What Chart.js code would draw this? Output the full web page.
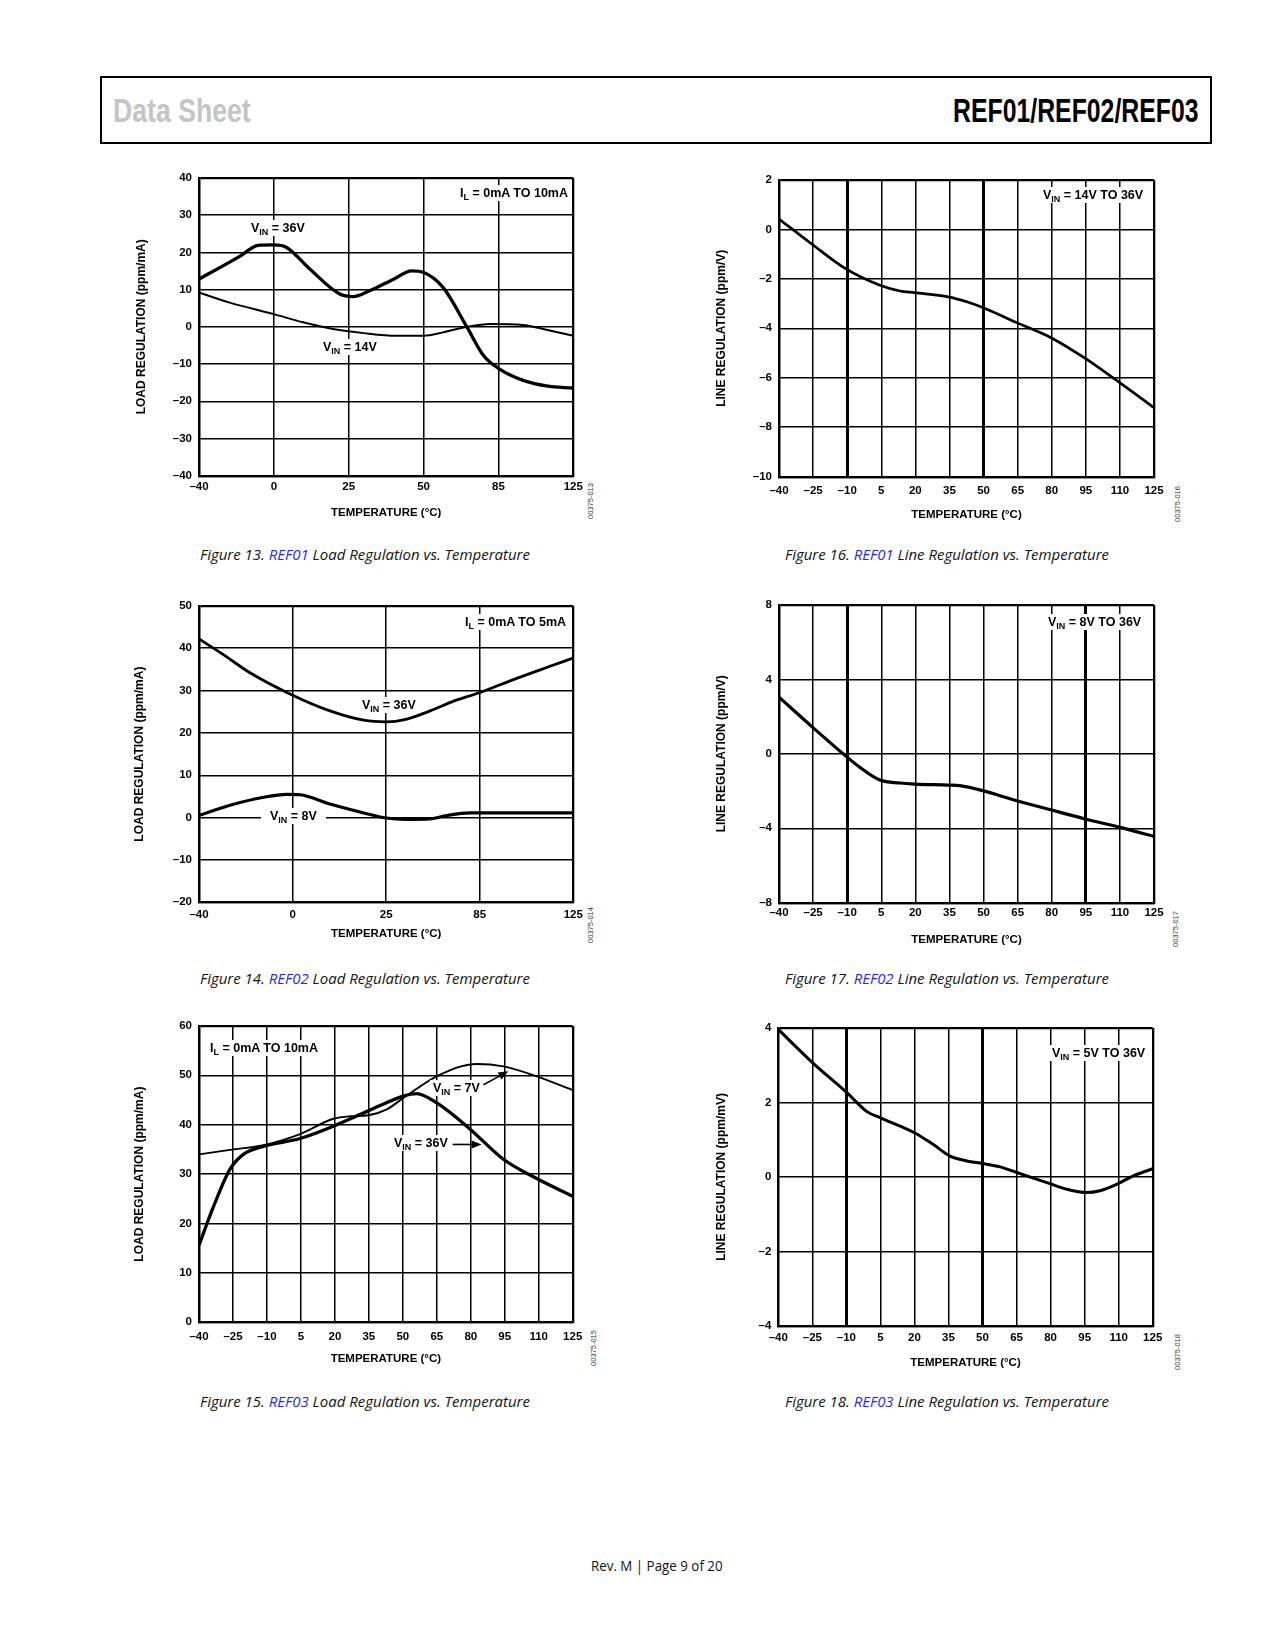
<!DOCTYPE html>
<html>
<head>
<meta charset="utf-8">
<script src="https://cdn.jsdelivr.net/npm/chart.js@4.4.1/dist/chart.umd.min.js"></script>
<style>
  body { margin: 0; background: #fff; }
  #page { position: relative; width: 1275px; height: 1650px; overflow: hidden; font-family: 'Liberation Sans', Arial, sans-serif; }
  #hdr { position: absolute; left: 100px; top: 76px; width: 1112px; height: 68px; border: 2px solid #000; box-sizing: border-box; }
  .big { position: absolute; font-size: 33px; line-height: 33px; font-weight: bold; white-space: nowrap; transform-origin: 0 0; }
  .cap { position: absolute; font-family: 'Open Sans', sans-serif; font-style: italic; font-size: 14px; line-height: 18px; white-space: nowrap; color: #111; transform-origin: 0 0; }
  .cap span { color: #1f1fff; }
  .note { position: absolute; z-index: 2; height: 16px; line-height: 16px; background: #fff; font-size: 12.5px; font-weight: bold; white-space: nowrap; }
  .note sub { font-size: 9px; vertical-align: -3px; line-height: 0; }
  .fid { position: absolute; font-size: 7.5px; color: #333; white-space: nowrap; transform: translate(-50%, -50%) rotate(-90deg); }
  canvas { position: absolute; z-index: 1; }
</style>
</head>
<body>
<div id="page">
  <div id="hdr"></div>
  <div class="big" id="ds" style="left:113px;top:94px;color:#c4c4c4">Data Sheet</div>
  <div class="big" id="pn" style="left:953px;top:94px;color:#000">REF01/REF02/REF03</div>
  <div class="cap" id="footer" style="left:591px;top:1557px;font-style:normal;font-size:14px">Rev. M | Page 9 of 20</div>
</div>
<script>
// ---- Figure 13: REF01 load regulation (x in grid divisions) ----
const fig13Ticks = ['-40', '0', '25', '50', '85', '125'];
const fig13Yticks = [-40, -30, -20, -10, 0, 10, 20, 30, 40];
const fig13X36 = [0, 0.55, 0.79, 1.0, 1.17, 1.48, 1.88, 2.06, 2.28, 2.6, 2.84, 3.0, 3.26, 3.58, 3.8, 4.01, 4.33, 4.64, 5];
const fig13Vin36 = [12.8, 19, 21.9, 22, 21.3, 15.5, 8.8, 8.1, 9.7, 12.8, 15, 14.6, 10.6, -0.1, -7.7, -11.3, -14.4, -15.9, -16.5];
const fig13X14 = [0, 0.41, 1.0, 1.39, 1.79, 2.2, 2.64, 3.0, 3.26, 3.58, 3.89, 4.33, 4.64, 5];
const fig13Vin14 = [9.2, 6.5, 3.4, 1.2, -0.6, -1.7, -2.4, -2.4, -1.5, 0, 0.75, 0.5, -0.8, -2.4];

// ---- Figure 14: REF02 load regulation (x in grid divisions) ----
const fig14Ticks = ['-40', '0', '25', '85', '125'];
const fig14Yticks = [-20, -10, 0, 10, 20, 30, 40, 50];
const fig14X36 = [0, 0.26, 0.545, 1.0, 1.4, 1.76, 2.0, 2.21, 2.47, 2.72, 3.01, 3.36, 3.72, 4];
const fig14Vin36 = [42.2, 38.5, 34.2, 28.9, 25.2, 23, 22.6, 23.2, 25.2, 27.5, 29.6, 32.6, 35.5, 37.7];
const fig14X8 = [0, 0.33, 0.69, 0.94, 1.08, 1.4, 1.76, 2.0, 2.21, 2.47, 2.65, 2.9, 3.18, 4];
const fig14Vin8 = [0.5, 2.9, 4.8, 5.5, 5.4, 3.2, 1.1, -0.1, -0.4, -0.3, 0.5, 1.1, 1.1, 1.1];

// ---- shared temperature ticks for figures 15–18 ----
const tempTicks = [-40, -25, -10, 5, 20, 35, 50, 65, 80, 95, 110, 125];

// ---- Figure 15: REF03 load regulation ----
const fig15Yticks = [0, 10, 20, 30, 40, 50, 60];
const fig15T36 = [-40, -33.7, -26.3, -20.4, -11.6, 4.6, 19.3, 34.8, 50.2, 56.1, 65, 79.7, 94.4, 109.1, 125];
const fig15Vin36 = [15.6, 23.3, 31, 34, 35.6, 37.2, 39.7, 42.8, 45.8, 46.3, 44.4, 39.1, 33, 29.1, 25.5];
const fig15T7 = [-40, -26.3, -10.1, 4.6, 19.3, 26.7, 34.8, 42.9, 50.2, 65, 82.6, 94.4, 109.1, 125];
const fig15Vin7 = [34, 34.9, 36, 38.1, 41.2, 41.7, 41.9, 43.1, 45.4, 49.8, 52.3, 51.8, 49.8, 47];

// ---- Figure 16: REF01 line regulation ----
const fig16Yticks = [-10, -8, -6, -4, -2, 0, 2];
const fig16T = [-40, -25.9, -10.7, 4.4, 13.2, 19.5, 34.5, 42.6, 49.6, 64.6, 79.5, 94.6, 109.6, 125];
const fig16Line = [0.42, -0.57, -1.59, -2.26, -2.49, -2.56, -2.73, -2.93, -3.16, -3.77, -4.37, -5.21, -6.18, -7.21];

// ---- Figure 17: REF02 line regulation ----
const fig17Yticks = [-8, -4, 0, 4, 8];
const fig17T = [-40, -25.9, -10.7, -4.4, 4.4, 13.2, 19.5, 34.5, 39.6, 49.6, 64.6, 79.5, 94.6, 109.6, 125];
const fig17Line = [3.04, 1.5, -0.11, -0.73, -1.41, -1.57, -1.63, -1.68, -1.71, -1.98, -2.52, -3.01, -3.5, -3.94, -4.44];

// ---- Figure 18: REF03 line regulation ----
const fig18Yticks = [-4, -2, 0, 2, 4];
const fig18T = [-40, -24.6, -9.9, -1.1, 5.3, 20.2, 28.3, 35.7, 43, 50.1, 57.7, 65.1, 79.7, 87.1, 95.9, 101.8, 109.1, 116.5, 125];
const fig18Line = [3.96, 3.05, 2.27, 1.76, 1.58, 1.18, 0.87, 0.56, 0.43, 0.36, 0.27, 0.12, -0.18, -0.33, -0.42, -0.37, -0.2, 0.03, 0.22];

const page = document.getElementById('page');
const dash = v => String(v).replace('-', '\u2013');

Chart.defaults.font.family = "'Liberation Sans', Arial, sans-serif";
Chart.defaults.font.size = 11.5;
Chart.defaults.font.weight = 'bold';
Chart.defaults.color = '#000';

function makeChart(spec) {
  const b = spec.box;
  const cl = Math.round(spec.yTitleX - 12);
  const ct = Math.floor(b.t - 12);
  const cr = Math.ceil(b.r + 22);
  const cb = Math.ceil(spec.xTitleY + 6.9 + 3);
  const cv = document.createElement('canvas');
  cv.width = cr - cl;
  cv.height = cb - ct;
  cv.style.left = cl + 'px';
  cv.style.top = ct + 'px';
  page.appendChild(cv);

  const yW = b.l - cl, xH = cb - b.b;
  const xv = spec.xTicks, yv = spec.yTicks;
  const thick = spec.thick || [];

  new Chart(cv, {
    type: 'line',
    data: {
      datasets: spec.series.map(s => ({
        data: s.x.map((x, i) => ({ x: x, y: s.y[i] })),
        borderColor: '#000',
        borderWidth: s.w,
        pointRadius: 0,
        cubicInterpolationMode: 'monotone',
        fill: false
      }))
    },
    options: {
      responsive: false,
      animation: false,
      devicePixelRatio: 1,
      layout: { padding: { top: b.t - ct, right: cr - b.r, left: 0, bottom: 0 } },
      plugins: { legend: { display: false }, tooltip: { enabled: false } },
      scales: {
        x: {
          type: 'linear',
          min: xv[0],
          max: xv[xv.length - 1],
          afterBuildTicks: s => { s.ticks = xv.map(v => ({ value: v })); },
          afterFit: s => { s.height = xH; },
          ticks: { padding: spec.xLabelY - b.b - 6.9, autoSkip: false, maxRotation: 0, callback: spec.xFmt },
          grid: {
            drawTicks: false,
            color: '#000',
            lineWidth: c => {
              const v = c.tick ? c.tick.value : null;
              if (thick.includes(v)) return 3;
              if (v === xv[0] || v === xv[xv.length - 1]) return 2.3;
              return 1.5;
            }
          },
          border: { color: '#000', width: 2.3 },
          title: { display: true, text: 'TEMPERATURE (°C)', padding: { top: 0, bottom: cb - spec.xTitleY - 6.9 } }
        },
        y: {
          min: yv[0],
          max: yv[yv.length - 1],
          afterBuildTicks: s => { s.ticks = yv.map(v => ({ value: v })); },
          afterFit: s => { s.width = yW; },
          ticks: { padding: 7, callback: v => dash(v) },
          grid: {
            drawTicks: false,
            color: '#000',
            lineWidth: c => {
              const v = c.tick ? c.tick.value : null;
              return (v === yv[0] || v === yv[yv.length - 1]) ? 2.3 : 1.5;
            }
          },
          border: { color: '#000', width: 2.3 },
          title: { display: true, text: spec.yTitle, font: { size: 12 }, padding: { top: spec.yTitleX - cl - 7.2, bottom: 0 } }
        }
      }
    },
    plugins: [{
      id: 'arrows',
      afterDatasetsDraw(chart) {
        const { ctx, scales } = chart;
        (spec.arrows || []).forEach(a => {
          const x1 = scales.x.getPixelForValue(a[0]), y1 = scales.y.getPixelForValue(a[1]);
          const x2 = scales.x.getPixelForValue(a[2]), y2 = scales.y.getPixelForValue(a[3]);
          const ang = Math.atan2(y2 - y1, x2 - x1);
          ctx.save();
          ctx.strokeStyle = '#000';
          ctx.fillStyle = '#000';
          ctx.lineWidth = 1.6;
          ctx.beginPath();
          ctx.moveTo(x1, y1);
          ctx.lineTo(x2 - 7 * Math.cos(ang), y2 - 7 * Math.sin(ang));
          ctx.stroke();
          ctx.beginPath();
          ctx.moveTo(x2, y2);
          ctx.lineTo(x2 - 10 * Math.cos(ang) + 4 * Math.sin(ang), y2 - 10 * Math.sin(ang) - 4 * Math.cos(ang));
          ctx.lineTo(x2 - 10 * Math.cos(ang) - 4 * Math.sin(ang), y2 - 10 * Math.sin(ang) + 4 * Math.cos(ang));
          ctx.closePath();
          ctx.fill();
          ctx.restore();
        });
      }
    }]
  });
}

function note(html, x, cy, pad) {
  const d = document.createElement('div');
  d.className = 'note';
  d.innerHTML = html;
  d.style.left = (x - pad) + 'px';
  d.style.top = (cy - 8) + 'px';
  d.style.padding = '0 ' + pad + 'px';
  page.appendChild(d);
}

function fid(text, x, cy) {
  const d = document.createElement('div');
  d.className = 'fid';
  d.textContent = text;
  d.style.left = x + 'px';
  d.style.top = cy + 'px';
  page.appendChild(d);
}

function caption(num, part, what, x, cy, w) {
  const d = document.createElement('div');
  d.className = 'cap';
  d.innerHTML = 'Figure ' + num + '. <span>' + part + '</span> ' + what + ' vs. Temperature';
  d.style.left = x + 'px';
  d.style.top = (cy - 9) + 'px';
  d.dataset.w = w;
  page.appendChild(d);
}

// Figure 13
makeChart({
  box: { l: 199, t: 176.7, r: 573.3, b: 475.7 }, yTitleX: 141.7, xLabelY: 486.7, xTitleY: 513,
  xTicks: [0, 1, 2, 3, 4, 5], xFmt: v => dash(fig13Ticks[v]), yTicks: fig13Yticks,
  yTitle: 'LOAD REGULATION (ppm/mA)',
  series: [{ x: fig13X36, y: fig13Vin36, w: 3.3 }, { x: fig13X14, y: fig13Vin14, w: 2 }]
});
note('I<sub>L</sub> = 0mA TO 10mA', 460, 193, 3);
note('V<sub>IN</sub> = 36V', 251, 228, 3);
note('V<sub>IN</sub> = 14V', 323, 347, 3);

// Figure 14
makeChart({
  box: { l: 199, t: 604.3, r: 573.3, b: 902.3 }, yTitleX: 140, xLabelY: 915, xTitleY: 934.3,
  xTicks: [0, 1, 2, 3, 4], xFmt: v => dash(fig14Ticks[v]), yTicks: fig14Yticks,
  yTitle: 'LOAD REGULATION (ppm/mA)',
  series: [{ x: fig14X36, y: fig14Vin36, w: 2.8 }, { x: fig14X8, y: fig14Vin8, w: 3.2 }]
});
note('I<sub>L</sub> = 0mA TO 5mA', 465, 622, 3);
note('V<sub>IN</sub> = 36V', 362, 705, 3);
note('V<sub>IN</sub> = 8V', 270, 816, 9);

// Figure 15
makeChart({
  box: { l: 199, t: 1024.3, r: 572.7, b: 1322.3 }, yTitleX: 140, xLabelY: 1336.7, xTitleY: 1359,
  xTicks: tempTicks, xFmt: v => dash(v), yTicks: fig15Yticks,
  yTitle: 'LOAD REGULATION (ppm/mA)',
  series: [{ x: fig15T36, y: fig15Vin36, w: 3.3 }, { x: fig15T7, y: fig15Vin7, w: 1.9 }],
  arrows: [[85.6, 48.1, 96.6, 50.8], [72.0, 36.0, 84.8, 36.0]]
});
note('I<sub>L</sub> = 0mA TO 10mA', 210, 1048, 3);
note('V<sub>IN</sub> = 7V', 433, 1088, 3);
note('V<sub>IN</sub> = 36V', 394, 1143, 3);

// Figure 16
makeChart({
  box: { l: 779, t: 178.3, r: 1154, b: 476.7 }, yTitleX: 721.7, xLabelY: 491, xTitleY: 515,
  xTicks: tempTicks, xFmt: v => dash(v), yTicks: fig16Yticks, thick: [-10, 50],
  yTitle: 'LINE REGULATION (ppm/V)',
  series: [{ x: fig16T, y: fig16Line, w: 2.7 }]
});
note('V<sub>IN</sub> = 14V TO 36V', 1043, 195, 4);

// Figure 17
makeChart({
  box: { l: 779, t: 603.3, r: 1154, b: 902.7 }, yTitleX: 721.7, xLabelY: 913, xTitleY: 940,
  xTicks: tempTicks, xFmt: v => dash(v), yTicks: fig17Yticks, thick: [-10, 95],
  yTitle: 'LINE REGULATION (ppm/V)',
  series: [{ x: fig17T, y: fig17Line, w: 3.2 }]
});
note('V<sub>IN</sub> = 8V TO 36V', 1048, 622, 4);

// Figure 18
makeChart({
  box: { l: 778.3, t: 1026, r: 1152.7, b: 1326 }, yTitleX: 721.7, xLabelY: 1337.7, xTitleY: 1363,
  xTicks: tempTicks, xFmt: v => dash(v), yTicks: fig18Yticks, thick: [-10, 50],
  yTitle: 'LINE REGULATION (ppm/mV)',
  series: [{ x: fig18T, y: fig18Line, w: 3 }]
});
note('V<sub>IN</sub> = 5V TO 36V', 1052, 1053, 4);

// figure ids down the right side of each plot
fid('00375-013', 590, 501);
fid('00375-014', 590, 925);
fid('00375-015', 593, 1348);
fid('00375-016', 1177, 504);
fid('00375-017', 1175, 929);
fid('00375-018', 1177, 1352);

caption(13, 'REF01', 'Load Regulation', 200, 555, 330);
caption(14, 'REF02', 'Load Regulation', 200, 978.5, 330);
caption(15, 'REF03', 'Load Regulation', 200, 1401.5, 330);
caption(16, 'REF01', 'Line Regulation', 785, 555, 324);
caption(17, 'REF02', 'Line Regulation', 785, 978.5, 324);
caption(18, 'REF03', 'Line Regulation', 785, 1402, 324);

// squeeze header and caption text to the widths in the original
function fit(el, w) {
  const cur = el.getBoundingClientRect().width;
  if (cur > 0) el.style.transform = 'scaleX(' + (w / cur) + ')';
}
document.fonts.ready.then(() => {
  fit(document.getElementById('ds'), 137.7);
  fit(document.getElementById('pn'), 245.6);
  fit(document.getElementById('footer'), 131.6);
  document.querySelectorAll('.cap[data-w]').forEach(el => fit(el, +el.dataset.w));
});
</script>
</body>
</html>
